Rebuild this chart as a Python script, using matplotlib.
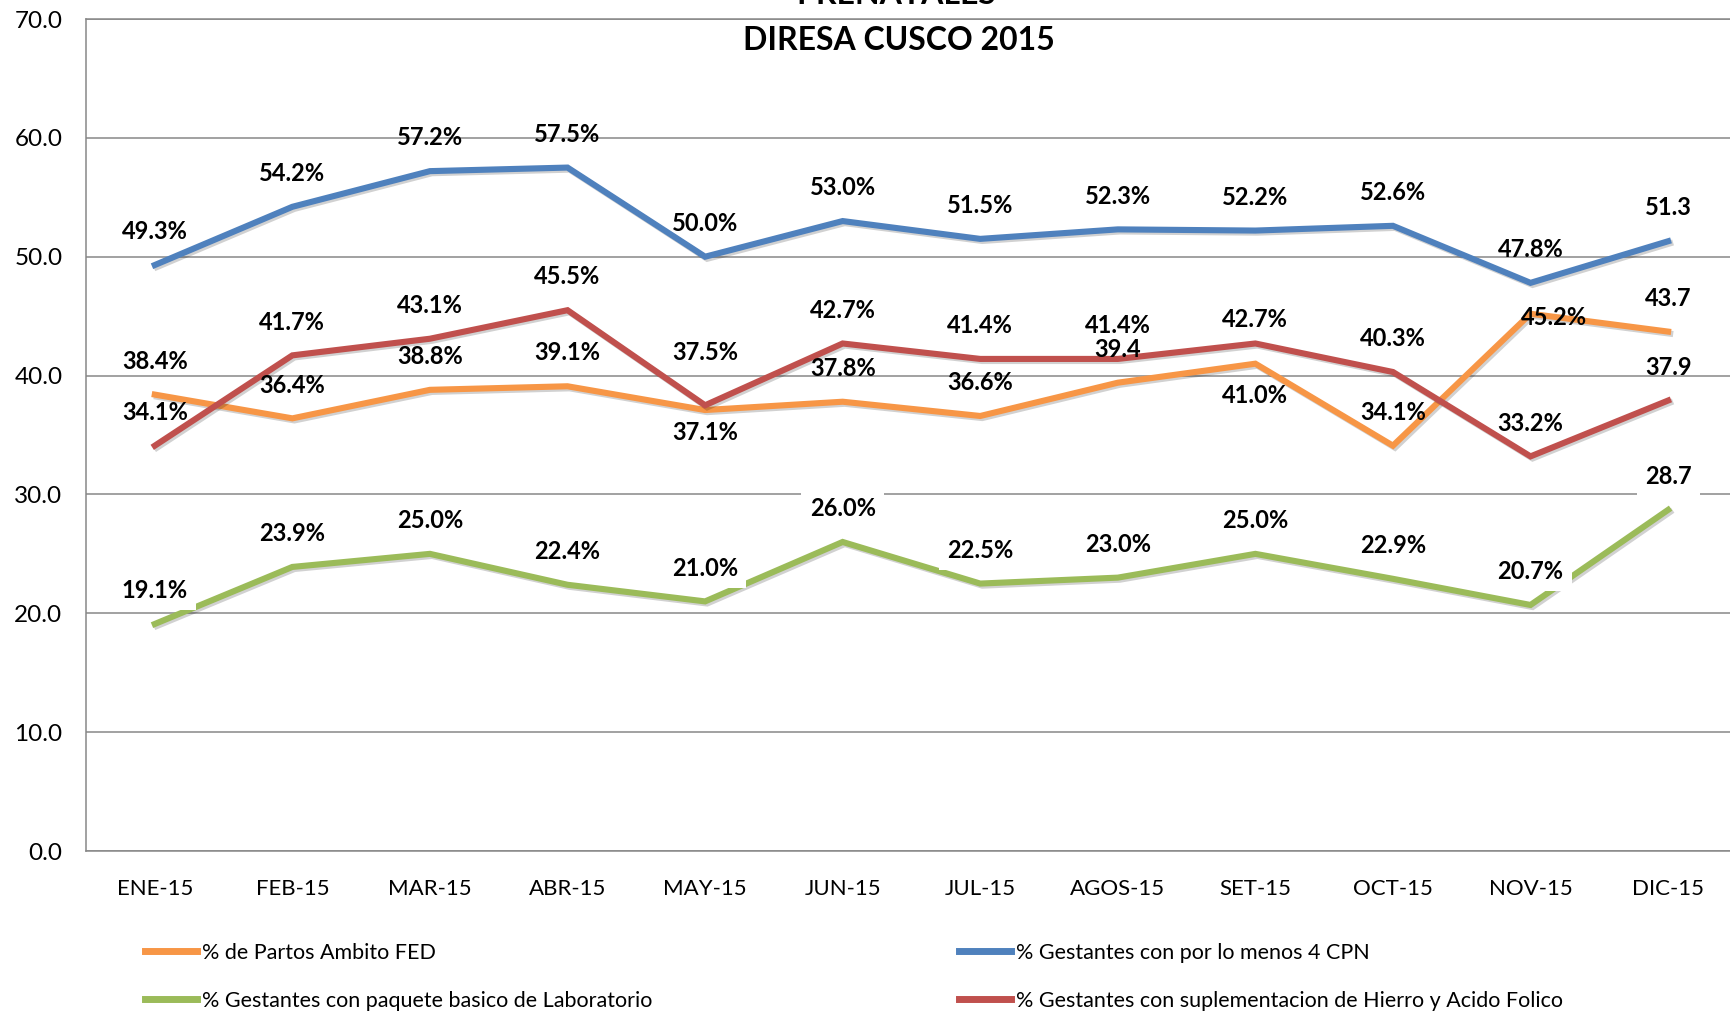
import matplotlib
matplotlib.use("Agg")
import matplotlib.pyplot as plt
import matplotlib.patheffects as pe

plt.rcParams['font.family'] = ['Lato', 'DejaVu Sans']

months = ['ENE-15', 'FEB-15', 'MAR-15', 'ABR-15', 'MAY-15', 'JUN-15',
          'JUL-15', 'AGOS-15', 'SET-15', 'OCT-15', 'NOV-15', 'DIC-15']

partos_fed = [38.4, 36.4, 38.8, 39.1, 37.1, 37.8, 36.6, 39.4, 41.0, 34.1, 45.2, 43.7]
cpn4 = [49.3, 54.2, 57.2, 57.5, 50.0, 53.0, 51.5, 52.3, 52.2, 52.6, 47.8, 51.3]
laboratorio = [19.1, 23.9, 25.0, 22.4, 21.0, 26.0, 22.5, 23.0, 25.0, 22.9, 20.7, 28.7]
hierro = [34.1, 41.7, 43.1, 45.5, 37.5, 42.7, 41.4, 41.4, 42.7, 40.3, 33.2, 37.9]

names = ['% de Partos Ambito FED',
         '% Gestantes con por lo menos 4 CPN',
         '% Gestantes con paquete basico de Laboratorio',
         '% Gestantes con suplementacion de Hierro y Acido Folico']

# labels printed without the % sign in the original
no_pct = {0: [7, 11], 1: [11], 2: [11], 3: [11]}

# label offsets (points) that differ from the default one above the point
special_off = {(0, 4): (0, -16), (0, 8): (0, -23), (0, 10): (17, -3),
               (3, 4): (0, 38), (3, 8): (0, 17)}

colors = ['#F79646', '#4F81BD', '#9BBB59', '#C0504D']
series = [partos_fed, cpn4, laboratorio, hierro]

fig = plt.figure(figsize=(17.3, 10.11), dpi=100)
ax = fig.add_axes([86 / 1730, 1 - 851 / 1011, 1 - 86 / 1730, (851 - 19) / 1011])

x = list(range(len(months)))
lines = []
for i, (vals, col) in enumerate(zip(series, colors)):
    ln, = ax.plot(x, vals, color=col, lw=4.4, solid_joinstyle='miter', zorder=3,
                  path_effects=[pe.SimpleLineShadow(offset=(1.5, -1.5), alpha=0.18),
                                pe.Normal()])
    lines.append(ln)
    for j, v in enumerate(vals):
        txt = f"{v:.1f}" if j in no_pct[i] else f"{v:.1f}%"
        dx, dy = special_off.get((i, j), (0, 24))
        kw = {}
        if i == 2:
            kw['bbox'] = dict(boxstyle='square,pad=0.35', fc='white', ec='none')
        ax.annotate(txt, (j, v), xytext=(dx, dy), textcoords='offset points',
                    ha='center', va='center', fontsize=17, fontweight='bold',
                    color='black', zorder=5, **kw)

ax.set_xlim(-0.5, 11.45)
ax.set_ylim(0, 70)
ax.set_yticks(range(0, 71, 10))
ax.set_yticklabels([f"{t:.1f}" for t in range(0, 71, 10)])
ax.set_xticks(x)
ax.set_xticklabels(months)
ax.tick_params(axis='both', length=0, labelsize=16)
ax.tick_params(axis='y', pad=17, labelsize=17.5)
ax.tick_params(axis='x', pad=20)
ax.yaxis.grid(True, color='#878787', lw=1.1)
ax.set_axisbelow(True)
for s in ['left', 'bottom', 'top']:
    ax.spines[s].set_color('#878787')
    ax.spines[s].set_linewidth(1.1)
ax.spines['right'].set_visible(False)

# title (first line cut off at top, as in the original)
fig.text(896 / 1730, 1 - 4 / 1011, 'PRENATALES', ha='center', va='baseline',
         fontsize=23, fontweight='bold')
fig.text(899 / 1730, 1 - 41 / 1011, 'DIRESA CUSCO 2015', ha='center', va='center',
         fontsize=23, fontweight='bold')

leg_kw = dict(loc='center left', frameon=False, fontsize=15.5, handlelength=2.4,
              handletextpad=0.25, labelspacing=1.3, borderpad=0, borderaxespad=0)
l1 = fig.legend([lines[0], lines[2]], [names[0], names[2]],
                bbox_to_anchor=(145 / 1730, 1 - 977 / 1011), **leg_kw)
l2 = fig.legend([lines[1], lines[3]], [names[1], names[3]],
                bbox_to_anchor=(959 / 1730, 1 - 977 / 1011), **leg_kw)
for lg in (l1, l2):
    for h in lg.legend_handles:
        h.set_linewidth(5)
        h.set_path_effects([])

fig.savefig('out.png', dpi=100)
